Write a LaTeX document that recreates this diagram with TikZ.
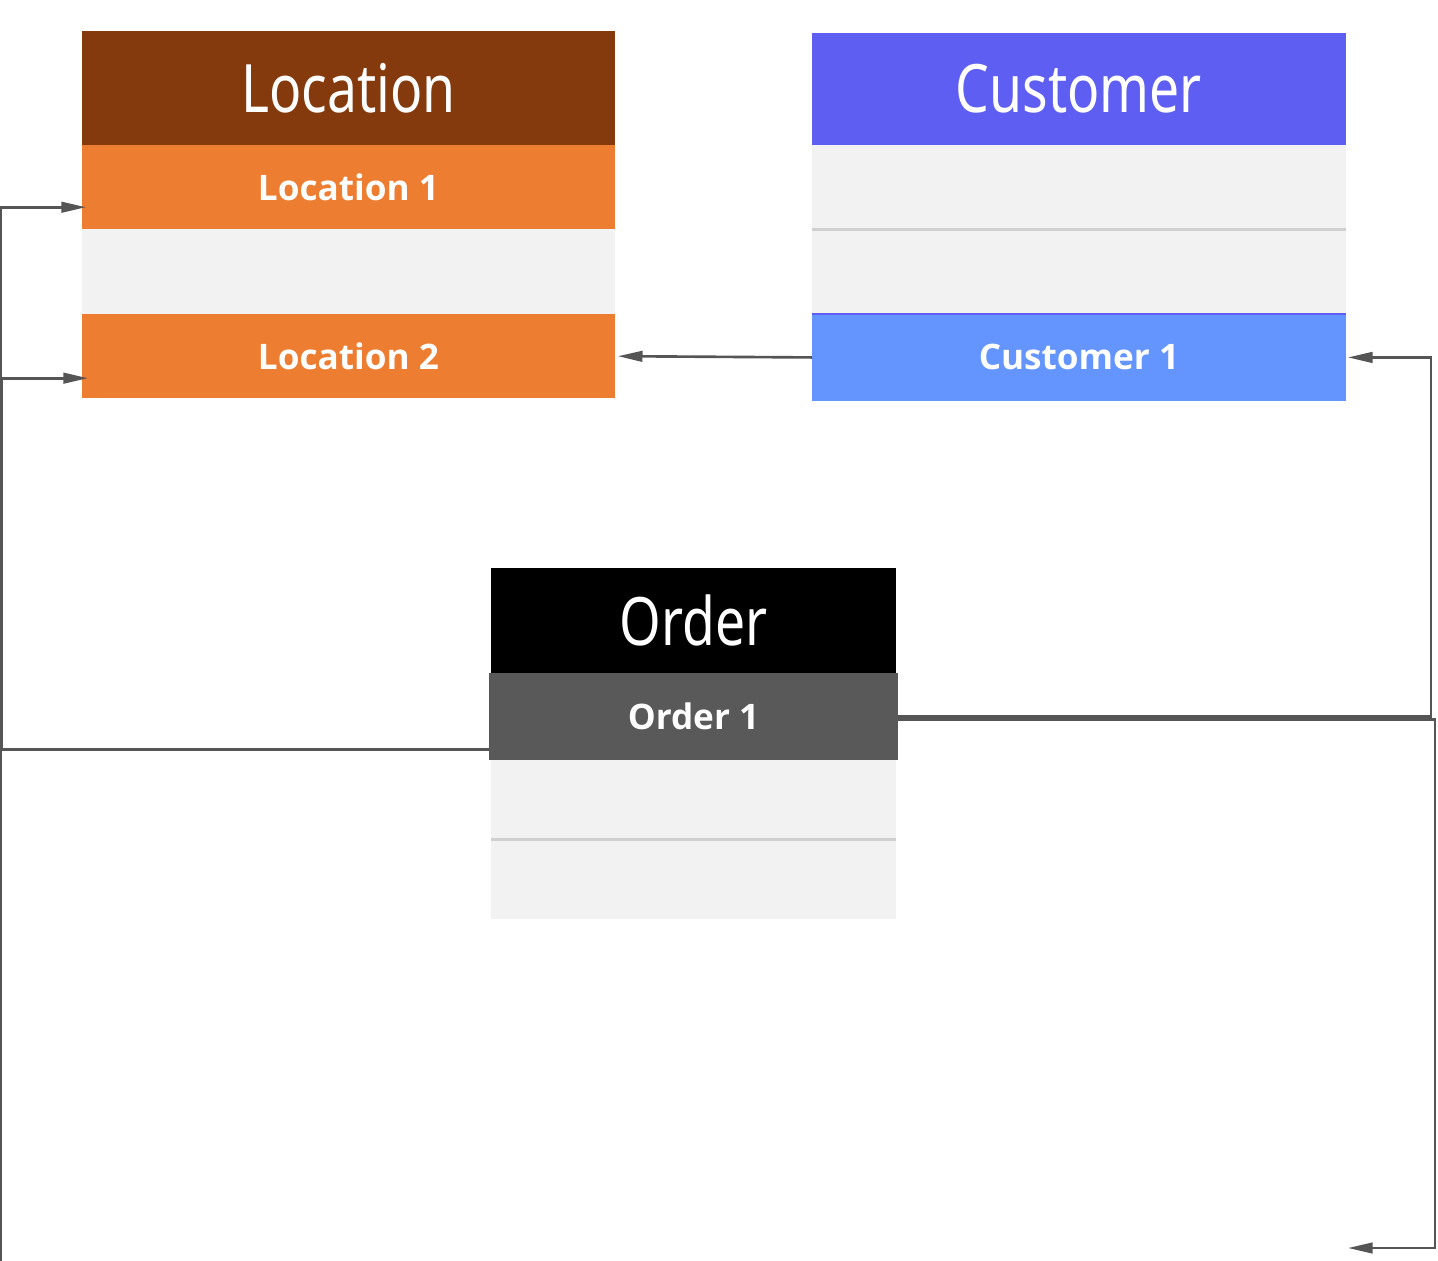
\documentclass[tikz,border=0pt]{standalone}
\usepackage{fontspec}
\setmainfont{Open Sans}
\newfontfamily\headfont[FakeStretch=0.8]{Noto Sans}
\usetikzlibrary{arrows.meta,positioning}
\definecolor{locdark}{HTML}{843A0C}
\definecolor{locrow}{HTML}{ED7D31}
\definecolor{cushead}{HTML}{5E5EF2}
\definecolor{cusrow}{HTML}{6495FF}
\definecolor{ordrow}{HTML}{595959}
\definecolor{emptyrow}{HTML}{F2F2F2}
\definecolor{sepgray}{HTML}{D0D0D0}
\definecolor{linkgray}{HTML}{555555}

\begin{document}
\begin{tikzpicture}[
  x=0.02cm, y=-0.02cm,
  head/.style={minimum height=2.28cm, minimum width=10.66cm, inner sep=0pt,
               outer sep=0pt, anchor=north west, text=white,
               font=\headfont\fontsize{38}{40}\selectfont},
  row/.style={minimum height=1.69cm, minimum width=10.66cm, inner sep=0pt,
              outer sep=0pt, text=white, font=\bfseries\fontsize{20}{24}\selectfont},
  sep/.style={draw=sepgray, line width=1.7pt},
  conn/.style={draw=linkgray, line width=1.5pt, -{Triangle[length=14pt,width=6pt]}},
]
\useasboundingbox (0,0) rectangle (1438,1261);

% Location table
\node[head, fill=locdark] (lochead) at (82,31) {Location};
\node[row, fill=locrow, below=0pt of lochead] (loc1) {Location 1};
\node[row, fill=emptyrow, below=0pt of loc1] (locgap) {};
\node[row, fill=locrow, below=0pt of locgap] (loc2) {Location 2};

% Customer table
\node[head, fill=cushead, minimum height=2.24cm, minimum width=10.68cm] (cushead) at (812,33) {Customer};
\node[row, fill=emptyrow, minimum width=10.68cm, below=0pt of cushead] (cusgap1) {};
\node[row, fill=emptyrow, minimum width=10.68cm, below=0pt of cusgap1] (cusgap2) {};
\node[row, fill=cusrow, minimum width=10.68cm, minimum height=1.74cm, below=0pt of cusgap2] (cus1) {Customer 1};
\draw[sep] (cusgap1.south west) -- (cusgap1.south east);
\draw[cushead, line width=1pt] (cus1.north west) -- (cus1.north east);

% Order table
\node[head, fill=black, minimum height=2.1cm, minimum width=8.1cm] (ordhead) at (491,568) {Order};
\node[row, fill=ordrow, minimum width=8.18cm, minimum height=1.74cm, below=0pt of ordhead] (ord1) {Order 1};
\node[row, fill=emptyrow, minimum width=8.1cm, minimum height=1.6cm, below=0pt of ord1] (ordgap1) {};
\node[row, fill=emptyrow, minimum width=8.1cm, minimum height=1.58cm, below=0pt of ordgap1] (ordgap2) {};
\draw[sep] (ordgap1.south west) -- (ordgap1.south east);

% Links
\coordinate (ordout) at (1348,1248);
\coordinate (locin) at (1,1261);
\draw[conn] (cus1.west) -- ([shift={(3,0)}]loc2.east);
\draw[conn] (ord1.east) -- ++(533,0) |- ([shift={(2,0)}]cus1.east);
\draw[conn] ([shift={(0,3)}]ord1.east) -- ++(537,0) |- (ordout);
\draw[conn] ([shift={(0,33)}]ord1.west) -- ++(-487,0) |- ([shift={(6,22)}]loc2.west);
\draw[conn] (locin) |- ([shift={(4,20)}]loc1.west);
\end{tikzpicture}
\end{document}
